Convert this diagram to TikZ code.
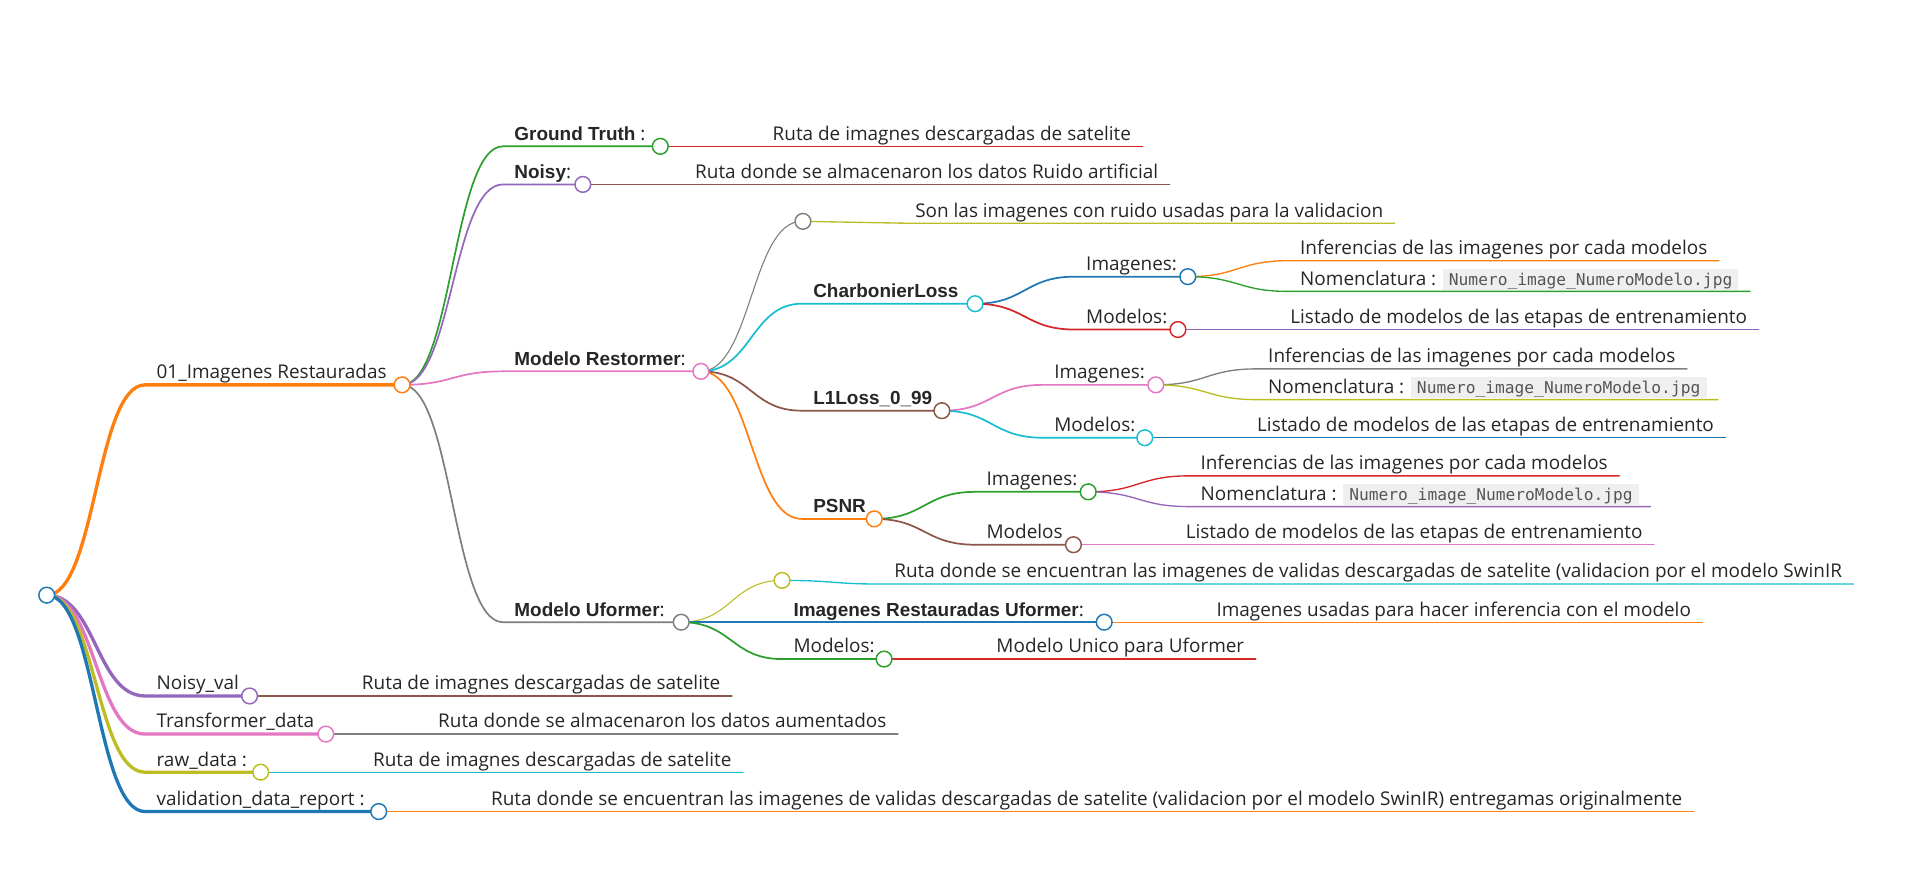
\documentclass[tikz,border=0pt]{standalone}
\usepackage{fontspec}
\setmainfont{Open Sans}[BoldFont={Liberation Sans Bold}]
\newfontfamily\codefont{DejaVu Sans Mono}
\usepackage{xcolor}
\usepackage{tikz}
\usetikzlibrary{calc}

\definecolor{mmblue}{HTML}{1F77B4}
\definecolor{mmorange}{HTML}{FF7F0E}
\definecolor{mmgreen}{HTML}{2CA02C}
\definecolor{mmred}{HTML}{D62728}
\definecolor{mmpurple}{HTML}{9467BD}
\definecolor{mmbrown}{HTML}{8C564B}
\definecolor{mmpink}{HTML}{E377C2}
\definecolor{mmgray}{HTML}{7F7F7F}
\definecolor{mmolive}{HTML}{BCBD22}
\definecolor{mmcyan}{HTML}{17BECF}
\definecolor{mmtext}{HTML}{262626}
\definecolor{codebg}{HTML}{EFEFEF}
\definecolor{codetx}{HTML}{555555}

\newcommand{\code}[1]{{\setlength{\fboxsep}{1.2pt}%
  \colorbox{codebg}{\hspace{1.3pt}\codefont\fontsize{6.6}{8}\selectfont\color{codetx}%
  \smash{#1}\rule[-0.6pt]{0pt}{6.2pt}\hspace{1.3pt}}}}

% parent, name, x, y, circle x, line style, text
\newcommand{\mmnode}[7]{%
  \coordinate (#2) at (#3,#4);
  \coordinate (#2-c) at (#5,#4);
  \node[lbl] (#2-t) at ($(#2)+(9,0)$) {#7};
  \draw[#6] (#1) to[link] (#2) -- (#2-c);
}
% parent, name, x, y, colour, text
\newcommand{\mmleaf}[6]{%
  \coordinate (#2) at (#3,#4);
  \node[lbl] (#2-t) at ($(#2)+(9,0)$) {#6};
  \draw[#5, leafln] (#1) to[link] (#2) -- ($(#2 -| #2-t.east)+(9,0)$);
}

\begin{document}
\begin{tikzpicture}[x=0.5pt, y=-0.5pt, line cap=round,
    dot/.style={circle, draw=#1, fill=white, line width=0.6pt, inner sep=0pt, minimum size=6.4pt},
    lbl/.style={anchor=base west, inner sep=0pt, yshift=2.5pt, text=mmtext,
                font=\fontsize{7.7}{9}\selectfont},
    wideln/.style={line width=1.35pt},
    midln/.style={line width=0.7pt},
    thinln/.style={line width=0.45pt},
    leafln/.style={line width=0.55pt},
    link/.style={to path={let \p1=(\tikztostart), \p2=(\tikztotarget),
                 \p3=($(\p1)!0.5!(\p2)$) in
                 .. controls (\x3,\y1) and (\x3,\y2) .. (\tikztotarget)}}]
    \useasboundingbox (0,0) rectangle (1568,718);

    \coordinate (root-c) at (38,484);

    \mmnode{root-c}{img}{118}{313}{327}{mmorange,wideln}{01\_Imagenes Restauradas}
    \mmnode{root-c}{nval}{118}{566}{203}{mmpurple,wideln}{Noisy\_val}
    \mmnode{root-c}{trd}{118}{597}{265}{mmpink,wideln}{Transformer\_data}
    \mmnode{root-c}{raw}{118}{628}{212}{mmolive,wideln}{raw\_data :}
    \mmnode{root-c}{vdr}{118}{660}{308}{mmblue,wideln}{validation\_data\_report :}

    \mmleaf{nval-c}{nvall}{285}{566}{mmbrown}{Ruta de imagnes descargadas de satelite}
    \mmleaf{trd-c}{trdl}{347}{597}{mmgray}{Ruta donde se almacenaron los datos aumentados}
    \mmleaf{raw-c}{rawl}{294}{628}{mmcyan}{Ruta de imagnes descargadas de satelite}
    \mmleaf{vdr-c}{vdrl}{390}{660}{mmorange}{Ruta donde se encuentran las imagenes de validas descargadas de satelite (validacion por el modelo SwinIR) entregamas originalmente}

    \mmnode{img-c}{gt}{409}{119}{537}{mmgreen,midln}{\textbf{Ground Truth} :}
    \mmleaf{gt-c}{gtl}{619}{119}{mmred}{Ruta de imagnes descargadas de satelite}
    \mmnode{img-c}{noisy}{409}{150}{474}{mmpurple,midln}{\textbf{Noisy}:}
    \mmleaf{noisy-c}{noisyl}{556}{150}{mmbrown}{Ruta donde se almacenaron los datos Ruido artificial}
    \mmnode{img-c}{rest}{409}{302}{570}{mmpink,midln}{\textbf{Modelo Restormer}:}
    \mmnode{img-c}{ufo}{409}{506}{554}{mmgray,midln}{\textbf{Modelo Uformer}:}

    \mmnode{rest-c}{rval}{652}{180}{653}{mmgray,thinln}{}
    \mmleaf{rval-c}{rvall}{735}{181.5}{mmolive}{Son las imagenes con ruido usadas para la validacion}
    \mmnode{rest-c}{charb}{652}{247}{793}{mmcyan,midln}{\textbf{CharbonierLoss}}
    \mmnode{charb-c}{cimg}{874}{225}{966}{mmblue,midln}{Imagenes:}
    \mmleaf{cimg-c}{cimga}{1048}{212}{mmorange}{Inferencias de las imagenes por cada modelos}
    \mmleaf{cimg-c}{cimgb}{1048}{237}{mmgreen}{Nomenclatura : \code{Numero\_image\_NumeroModelo.jpg}}
    \mmnode{charb-c}{cmod}{874}{268}{958}{mmred,midln}{Modelos:}
    \mmleaf{cmod-c}{cmodl}{1040}{268}{mmpurple}{Listado de modelos de las etapas de entrenamiento}
    \mmnode{rest-c}{lone}{652}{334}{766}{mmbrown,midln}{\textbf{L1Loss\_0\_99}}
    \mmnode{lone-c}{limg}{848}{313}{940}{mmpink,midln}{Imagenes:}
    \mmleaf{limg-c}{limga}{1022}{300}{mmgray}{Inferencias de las imagenes por cada modelos}
    \mmleaf{limg-c}{limgb}{1022}{325}{mmolive}{Nomenclatura : \code{Numero\_image\_NumeroModelo.jpg}}
    \mmnode{lone-c}{lmod}{848}{356}{931}{mmcyan,midln}{Modelos:}
    \mmleaf{lmod-c}{lmodl}{1013}{356}{mmblue}{Listado de modelos de las etapas de entrenamiento}
    \mmnode{rest-c}{psnr}{652}{422}{711}{mmorange,midln}{\textbf{PSNR}}
    \mmnode{psnr-c}{pimg}{793}{400}{885}{mmgreen,midln}{Imagenes:}
    \mmleaf{pimg-c}{pimga}{967}{387}{mmred}{Inferencias de las imagenes por cada modelos}
    \mmleaf{pimg-c}{pimgb}{967}{412}{mmpurple}{Nomenclatura : \code{Numero\_image\_NumeroModelo.jpg}}
    \mmnode{psnr-c}{pmod}{793}{443}{873}{mmbrown,midln}{Modelos}
    \mmleaf{pmod-c}{pmodl}{955}{443}{mmpink}{Listado de modelos de las etapas de entrenamiento}

    \mmnode{ufo-c}{uval}{636}{472}{636}{mmolive,thinln}{}
    \mmleaf{uval-c}{uvall}{718}{475}{mmcyan}{Ruta donde se encuentran las imagenes de validas descargadas de satelite (validacion por el modelo SwinIR}
    \mmnode{ufo-c}{iru}{636}{506}{898}{mmblue,midln}{\textbf{Imagenes Restauradas Uformer}:}
    \mmleaf{iru-c}{irul}{980}{506}{mmorange}{Imagenes usadas para hacer inferencia con el modelo}
    \mmnode{ufo-c}{umod}{636}{536}{719}{mmgreen,midln}{Modelos:}
    \mmleaf{umod-c}{umodl}{801}{536}{mmred}{Modelo Unico para Uformer}

    \foreach \n/\c in {root/mmblue, img/mmorange, nval/mmpurple, trd/mmpink, raw/mmolive,
        vdr/mmblue, gt/mmgreen, noisy/mmpurple, rest/mmpink, ufo/mmgray, rval/mmgray,
        charb/mmcyan, cimg/mmblue, cmod/mmred, lone/mmbrown, limg/mmpink, lmod/mmcyan,
        psnr/mmorange, pimg/mmgreen, pmod/mmbrown, uval/mmolive, iru/mmblue, umod/mmgreen}
        \node[dot=\c] (\n-dot) at (\n-c) {};
\end{tikzpicture}
\end{document}
